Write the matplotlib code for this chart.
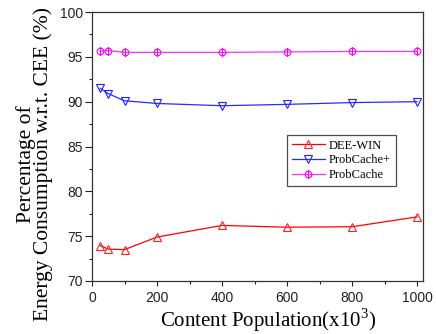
import matplotlib
matplotlib.use("Agg")
import matplotlib.pyplot as plt
from matplotlib.path import Path
from matplotlib.ticker import MultipleLocator

plt.rcParams["mathtext.fontset"] = "custom"
plt.rcParams["mathtext.rm"] = "Liberation Serif"

population = [25, 50, 100, 200, 400, 600, 800, 1000]
dee_win = [73.95, 73.55, 73.5, 74.9, 76.2, 76.0, 76.05, 77.15]
probcache_plus = [91.5, 90.9, 90.1, 89.8, 89.55, 89.7, 89.9, 90.0]
probcache = [95.62, 95.7, 95.5, 95.5, 95.5, 95.55, 95.6, 95.6]

series_names = ["DEE-WIN", "ProbCache+", "ProbCache"]
x_ticks = [0, 200, 400, 600, 800, 1000]
y_ticks = [70, 75, 80, 85, 90, 95, 100]

# circle crossed by a vertical bar
crossed = Path.make_compound_path(
    Path.unit_circle(),
    Path([[0, -1.35], [0, 1.35]], [Path.MOVETO, Path.LINETO]),
)

fig = plt.figure(figsize=(4.36, 3.34), dpi=100)
ax = fig.add_axes([0.211, 0.1587, 0.759, 0.8053])

ax.plot(population, dee_win, color="#ff0000", lw=0.9, marker="^", ms=5.5,
        mfc="none", mec="#ff2020", mew=0.8, label=series_names[0])
ax.plot(population, probcache_plus, color="#2a2aff", lw=0.9, marker="v", ms=5.5,
        mfc="none", mec="#2020ff", mew=0.8, label=series_names[1])
ax.plot(population, probcache, color="#ff30ff", lw=0.9, marker=crossed, ms=6.5,
        mfc="none", mec="#ff00ff", mew=0.8, label=series_names[2])

ax.set_xlim(0, 1018)
ax.set_ylim(70, 100)
ax.set_xticks(x_ticks)
ax.set_yticks(y_ticks)
ax.xaxis.set_minor_locator(MultipleLocator(100))
ax.yaxis.set_minor_locator(MultipleLocator(2.5))
ax.tick_params(which="both", direction="out", width=0.8, colors="#222222")
ax.tick_params(axis="x", which="major", length=3.5, labelsize=10, pad=4)
ax.tick_params(axis="x", which="minor", length=2)
ax.tick_params(axis="y", which="major", length=5, labelsize=10, pad=1.5)
ax.tick_params(axis="y", which="minor", length=2.5)
for lbl in ax.get_xticklabels() + ax.get_yticklabels():
    lbl.set_fontfamily("Liberation Sans")
for sp in ax.spines.values():
    sp.set_linewidth(0.9)
    sp.set_color("#333333")

fig.text(268 / 436, 7 / 334, "Content Population(x10$^{3}$)",
         fontfamily="Liberation Serif", fontsize=15, ha="center", va="baseline")
fig.text(34.5 / 436, 0.509, "Percentage of\nEnergy Consumption w.r.t. CEE (%)",
         fontfamily="Liberation Serif", fontsize=15.5, rotation=90,
         ha="center", va="center", multialignment="center", linespacing=0.85)

leg = ax.legend(loc="upper left", bbox_to_anchor=(0.59, 0.544),
                prop={"family": "Liberation Serif", "size": 9},
                frameon=True, fancybox=False, edgecolor="#222222",
                handlelength=2.6, handletextpad=0.3, borderpad=0.4,
                labelspacing=0.22, borderaxespad=0)
leg.get_frame().set_linewidth(0.9)

fig.savefig("out.png", dpi=100)
